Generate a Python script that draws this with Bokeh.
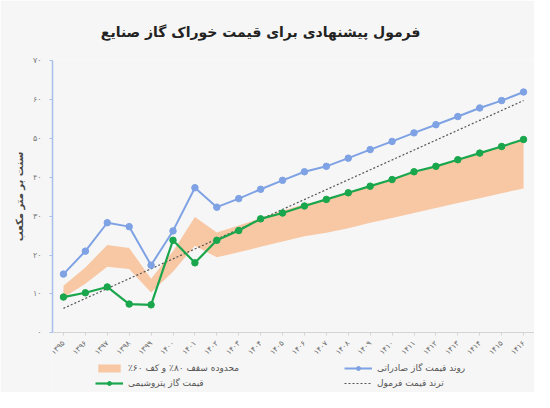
from bokeh.plotting import figure
from bokeh.models import (FactorRange, Range1d, FixedTicker, Legend, LegendItem, Title)
from bokeh.embed import file_html
from bokeh.resources import INLINE

# ---------------- data ----------------
years = ["۱۳۹۵", "۱۳۹۶", "۱۳۹۷", "۱۳۹۸", "۱۳۹۹", "۱۴۰۰", "۱۴۰۱", "۱۴۰۲",
         "۱۴۰۳", "۱۴۰۴", "۱۴۰۵", "۱۴۰۶", "۱۴۰۷", "۱۴۰۸", "۱۴۰۹", "۱۴۱۰",
         "۱۴۱۱", "۱۴۱۲", "۱۴۱۳", "۱۴۱۴", "۱۴۱۵", "۱۴۱۶"]

export_price = [15.1, 21.0, 28.3, 27.3, 17.4, 26.2, 37.3, 32.3, 34.5, 36.9, 39.2,
                41.4, 42.8, 44.9, 47.1, 49.2, 51.4, 53.5, 55.6, 57.8, 59.7, 61.9]

petchem_price = [9.2, 10.3, 11.8, 7.4, 7.2, 23.8, 18.0, 23.8, 26.3, 29.3, 30.8,
                 32.6, 34.3, 36.0, 37.7, 39.4, 41.4, 42.8, 44.5, 46.2, 47.9, 49.7]

band_upper = [12.1, 16.8, 22.6, 21.8, 13.9, 21.0, 29.8, 25.8, 27.6, 29.5, 31.4,
              33.1, 34.2, 35.9, 37.7, 39.4, 41.1, 42.8, 44.5, 46.2, 47.8, 49.5]
band_lower = [9.1, 12.6, 17.0, 16.4, 10.4, 15.7, 22.4, 19.4, 20.7, 22.1, 23.5,
              24.8, 25.7, 26.9, 28.3, 29.5, 30.8, 32.1, 33.4, 34.6, 35.9, 37.1]

trend_years = ["۱۳۹۵", "۱۴۱۶"]
trend_values = [6.3, 59.7]

y_ticks = [0, 10, 20, 30, 40, 50, 60, 70]
y_tick_labels = ["۰", "۱۰", "۲۰", "۳۰", "۴۰", "۵۰", "۶۰", "۷۰"]

title_text = "فرمول پیشنهادی برای قیمت خوراک گاز صنایع"
y_title = "سنت بر متر مکعب"
lbl_band = "\u200fمحدوده سقف ۸۰٪ و کف ۶۰٪\u200f"
lbl_export = "روند قیمت گاز صادراتی"
lbl_petchem = "قیمت گاز پتروشیمی"
lbl_trend = "ترند قیمت فرمول"

# ---------------- styles ----------------
FONT = "DejaVu Sans"
BG = "#f6f6f6"
BLUE = "#7fa2e4"
GREEN = "#1aa64c"
ORANGE = "#f8c7a3"

# the frame reaches down to the legend area; the value axis covers 0..70 only
p = figure(width=534, height=392,
           x_range=FactorRange(factors=years, range_padding=0),
           y_range=Range1d(-15.33, 70),
           output_backend="svg", toolbar_location=None,
           min_border_left=52, min_border_right=0,
           min_border_top=58, min_border_bottom=0,
           background_fill_color=BG, border_fill_color=BG,
           outline_line_color=None)

p.title = Title(text=title_text, align="right", offset=114, standoff=42,
                text_font=FONT, text_font_size="14px", text_font_style="bold",
                text_color="#222222")

p.xgrid.visible = False
p.ygrid.visible = False

band = p.varea(x=years, y1=band_lower, y2=band_upper, fill_color=ORANGE, fill_alpha=1)

trend = p.line(x=trend_years, y=trend_values, line_color="#555555",
               line_width=1.2, line_dash="2 2")

bl = p.line(x=years, y=export_price, line_color=BLUE, line_width=2)
bs = p.scatter(x=years, y=export_price, size=6.5, fill_color=BLUE, line_color=BLUE)

gl = p.line(x=years, y=petchem_price, line_color=GREEN, line_width=2.2)
gs = p.scatter(x=years, y=petchem_price, size=6.5, fill_color=GREEN, line_color=GREEN)

# axes
yax = p.yaxis[0]
yax.bounds = (0, 70)
yax.ticker = FixedTicker(ticks=y_ticks)
yax.major_label_overrides = {t: l for t, l in zip(y_ticks, y_tick_labels)}
yax.axis_line_color = "#a9c0ec"
yax.axis_line_width = 1.5
yax.major_tick_line_color = "#a9c0ec"
yax.major_tick_in = 0
yax.major_tick_out = 3
yax.minor_tick_line_color = None
yax.major_label_text_font = FONT
yax.major_label_text_font_size = "8px"
yax.major_label_text_color = "#7a7a7a"
yax.major_label_standoff = 8
# leading em-spaces lift the label to the middle of the 0..70 span
yax.axis_label = "\u2003" * 6 + y_title
yax.axis_label_text_font = FONT
yax.axis_label_text_font_size = "10px"
yax.axis_label_text_font_style = "bold"
yax.axis_label_text_color = "#444444"
yax.axis_label_standoff = 5

xax = p.xaxis[0]
xax.fixed_location = 0
xax.axis_line_color = "#d4d4d4"
xax.major_tick_line_color = "#d4d4d4"
xax.major_tick_in = 0
xax.major_tick_out = 3
xax.major_label_orientation = 0.785
xax.major_label_text_font = FONT
xax.major_label_text_font_size = "7.5px"
xax.major_label_text_color = "#6a6a6a"
xax.major_label_standoff = 6

# legends (two columns)
common = dict(orientation="vertical", background_fill_alpha=0,
              border_line_color=None, padding=0, margin=0, spacing=5,
              glyph_width=28, glyph_height=10, label_height=10,
              label_standoff=5, label_text_font=FONT,
              label_text_font_size="9px", label_text_color="#555555")
legend_left = Legend(items=[
    LegendItem(label=lbl_band, renderers=[band]),
    LegendItem(label=lbl_petchem, renderers=[gl, gs]),
], location=(43, 4), **common)
legend_right = Legend(items=[
    LegendItem(label=lbl_export, renderers=[bl, bs]),
    LegendItem(label=lbl_trend, renderers=[trend]),
], location=(292, 4), **common)
p.add_layout(legend_left, "center")
p.add_layout(legend_right, "center")

open("out.html", "w").write(file_html(p, INLINE))
